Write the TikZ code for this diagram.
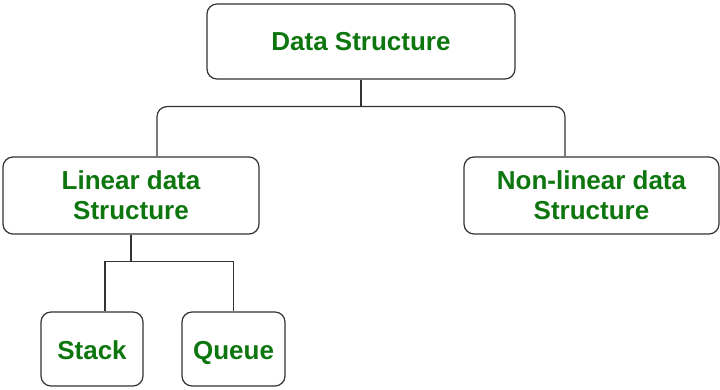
\documentclass[tikz,border=0pt]{standalone}
\usepackage{fontspec}
\setmainfont{Liberation Sans}
\usetikzlibrary{positioning}
\definecolor{dsgreen}{RGB}{14,118,14}

\begin{document}
\begin{tikzpicture}[x=1pt, y=1pt,
    box/.style={rectangle, rounded corners=10pt, draw=black!80, line width=1.2pt, align=center, text=dsgreen, font=\fontsize{26}{30}\selectfont\bfseries},
    leaf/.style={box, minimum height=74pt, text height=20pt, text depth=0pt},
    link/.style={draw=black!80, line width=1.2pt},
    ]
    \useasboundingbox (0,0) rectangle (720,-390);
    % Root
    \node[box, minimum width=308pt, minimum height=75pt] (ds) at (361,-41.5) {Data Structure};
    % Second level
    \node[box, minimum width=256pt, minimum height=77pt] (lin) at (131,-195.5) {Linear data\\Structure};
    \node[box, minimum width=255pt, minimum height=77pt] (nonlin) at (591.5,-195.5) {Non-linear data\\Structure};
    % Leaves of the linear branch
    \node[leaf, minimum width=102pt] (stack) at (92,-349) {Stack};
    \node[leaf, minimum width=103pt] (queue) at (233.5,-349) {Queue};
    % Help coordinates for the branch ends
    \coordinate (lin_in) at ([xshift=26pt]lin.north);
    \coordinate (nonlin_in) at ([xshift=-26.5pt]nonlin.north);
    \coordinate (stack_in) at ([xshift=13pt]stack.north);

    % Edges root
    \draw[link] (ds.south) -- ++(0,-27) coordinate (ds_split);
    \draw[link, rounded corners=10pt] (lin_in) |- (ds_split) -| (nonlin_in);
    % Edges linear
    \draw[link] (lin.south) -- ++(0,-27) coordinate (lin_split);
    \draw[link] (stack_in) |- (lin_split) -| (queue.north);
\end{tikzpicture}
\end{document}
